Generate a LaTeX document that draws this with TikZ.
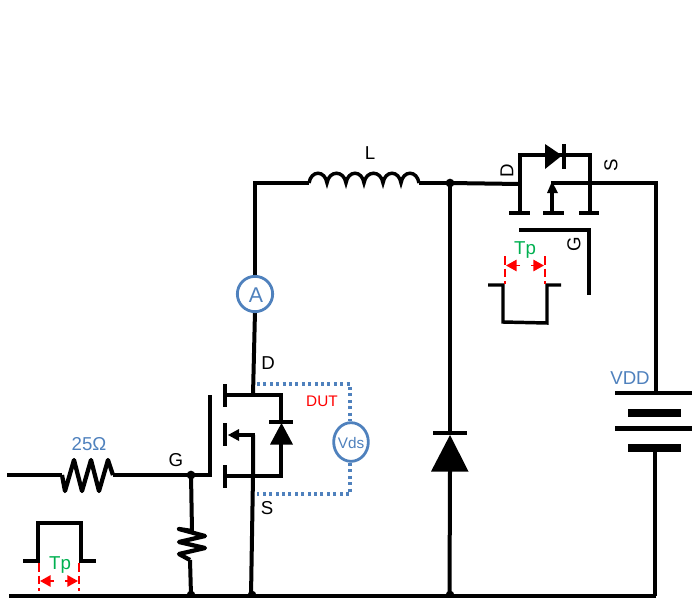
\documentclass[tikz,border=0pt]{standalone}
\usepackage{fontspec}
\setmainfont{Liberation Sans}
\usetikzlibrary{arrows.meta,calc,shapes.geometric}
\definecolor{vblue}{RGB}{79,129,189}
\definecolor{wave}{RGB}{0,176,80}
\tikzset{
  wire/.style={line width=3pt,line cap=butt,line join=miter},
  zigzag/.style={line width=3.2pt,line join=round},
  slim/.style={line width=2.3pt},
  cellplate/.style={line width=3.4pt},
  cellthick/.style={line width=6pt},
  filled/.style={fill=black,draw=none},
  junction/.style={circle,fill=black,inner sep=0pt,minimum size=6.5pt,draw=none},
  probe/.style={draw=vblue,line width=2.3pt,dash pattern=on 2.3pt off 2.5pt},
  meter/.style={draw=vblue,line width=2.1pt,fill=white,inner sep=0pt},
  lab/.style={inner sep=0pt,font=\fontsize{14}{16}\selectfont},
  bluelab/.style={lab,text=vblue},
  greenlab/.style={lab,text=wave,font=\fontsize{14}{16}\selectfont},
  redlab/.style={inner sep=0pt,text=red,font=\fontsize{11.5}{13}\selectfont},
  marker/.style={red,line width=1.2pt,dash pattern=on 6.5pt off 3pt},
  span/.style={red,line width=1.4pt,-{Triangle[length=8pt,width=8.5pt]}}
}
\begin{document}
\begin{tikzpicture}[x=0.75pt,y=-0.75pt]
\useasboundingbox (0,0) rectangle (692,597);
% named points
\coordinate (inL) at (7,475);
\coordinate (r1a) at (62,475);
\coordinate (r1b) at (113,475);
\coordinate (gnd0) at (9,596);
\coordinate (gndE) at (656,596);
\coordinate (lA) at (309,183);
\coordinate (lB) at (419,183);
\coordinate (corner) at (255,183);
\coordinate (dTop) at (253,395);
\coordinate (sMid) at (253,476);
\coordinate (sIn) at (253,435);
\coordinate (sGnd) at (251,596);
\coordinate (gFet) at (210,475);
\coordinate (gFetT) at (210,395);
\coordinate (dR) at (281,395);
\coordinate (sR) at (281,476);
\coordinate (hsD) at (520,184);
\coordinate (hsTL) at (520,155);
\coordinate (hsTR) at (590,155);
\coordinate (hsIn) at (552,182.5);
\coordinate (vddC) at (656,182.5);
\coordinate (batTop) at (656,393);
\coordinate (batBot) at (655,448);
% junction dots
\node[junction] (jG) at (191,475) {};
\node[junction] (jL) at (450,183) {};
\begin{scope}
\clip (0,0) rectangle (692,597);
\node[junction] (jB1) at (191,595) {};
\node[junction] (jB2) at (252,595) {};
\node[junction] (jB3) at (450,595) {};
\end{scope}
% ground rail
\draw[wire] (gnd0) -- (gndE);
% input and 25 ohm
\draw[wire] (inL) -- (r1a);
\draw[zigzag] (r1a) -- (65,491) -- (74,460) -- (82,491) -- (91,460) -- (99,491) -- (108,460) -- (r1b);
\draw[wire] (r1b) -- (jG.center) -- (gFet) -- (gFetT);
% shunt resistor
\draw[wire] (jG.center) -- (192,531);
\draw[zigzag] (192,531) -- (179,529) -- (205,536) -- (179,542) -- (205,548) -- (179,554) -- (190,560);
\draw[wire] (190,560) -- (jB1.center);
% drain path with ammeter
\draw[wire] (lA) -- (corner) -- (255,277);
\draw[wire] (255,311) -- (dTop);
\node[meter,circle,minimum size=26.5pt] (A) at (255,294) {};
\node[bluelab,font=\fontsize{16}{18}\selectfont] (Atxt) at (256,295) {A};
% inductor
\draw[wire,line width=2.6pt] (lA)
  .. controls (311,170) and (325,170) .. (327,183)
  .. controls (329,170) and (344,170) .. (346,183)
  .. controls (348,170) and (362,170) .. (364,183)
  .. controls (366,170) and (381,170) .. (383,183)
  .. controls (385,170) and (399,170) .. (401,183)
  .. controls (403,170) and (417,170) .. (lB);
\draw[wire] (lB) -- (jL.center);
% DUT FET
\draw[wire] (226,395) -- (dR) -- (281,423);
\draw[wire] (226,476) -- (sR) -- (281,444);
\draw[wire] (sIn) -- (sMid) -- (sGnd);
\draw[wire] (225,384) -- (225,407);
\draw[wire] (225,423) -- (225,446);
\draw[wire] (225,465) -- (225,488);
\draw[wire] (254.5,435) -- (237,435);
\path[filled] (228,435) -- (239,429) -- (239,441) -- cycle;
% body diode
\path[filled] (270,444.5) -- (293,444.5) -- (281.5,423) -- cycle;
\draw[slim] (269,422) -- (293,422);
% Vds probe
\draw[probe] (257,384) -- (350,384) -- (350,421);
\draw[probe] (350,463) -- (350,494) -- (257,494);
\node[meter,ellipse,minimum width=26pt,minimum height=29pt] (Vds) at (351,442) {};
\node[bluelab,font=\fontsize{11.5}{13}\selectfont] (Vdstxt) at (351,443) {Vds};
% freewheel diode
\draw[wire] (jL.center) -- (450,434);
\path[filled] (431,471.5) -- (468.5,471.5) -- (450,435) -- cycle;
\draw[slim] (433,433) -- (467,433);
\draw[wire] (450,471) -- (449.5,596);
% high side FET
\draw[wire] (jL.center) -- (hsD);
\draw[wire] (520,213) -- (hsTL) -- (hsTR) -- (590,213);
\draw[wire] (509,213) -- (530,213);
\draw[wire] (543,213) -- (564,213);
\draw[wire] (579,213) -- (599,213);
\path[filled] (545,144) -- (545,169) -- (562,155.5) -- cycle;
\draw[wire] (564,144) -- (564,169);
\draw[wire] (552,213) -- (552,191);
\path[filled] (552,181.5) -- (558,193) -- (547,193) -- cycle;
\draw[wire] (551,182.5) -- (vddC) -- (batTop);
\draw[wire] (519,230) -- (589,230) -- (589,295);
% battery
\draw[cellplate] (615,393) -- (692,393);
\draw[cellthick] (628,412.5) -- (681,412.5);
\draw[cellplate] (615,428.5) -- (692,428.5);
\draw[cellthick] (628,448) -- (681,448);
\draw[wire] (batBot) -- (655,596);
% gate pulses
\draw[wire,line width=2.6pt] (23,561) -- (38,561) -- (38,523) -- (81,523) -- (81,561) -- (96,561);
\draw[wire,line width=2.6pt] (488,285) -- (503,285) -- (503,322) -- (547,323) -- (547,285) -- (561,285);
% pulse width markers
\draw[marker] (39,563) -- (39,591);
\draw[marker] (79,563) -- (79,591);
\draw[span] (54,581) -- (40,581);
\draw[span] (65,581) -- (78,581);
\draw[marker] (505,256) -- (505,284);
\draw[marker] (545,256) -- (545,284);
\draw[span] (520,265.5) -- (506,265.5);
\draw[span] (531,265.5) -- (544,265.5);
% labels
\node[greenlab] (tp1) at (60,565) {Tp};
\node[greenlab] (tp2) at (525,250) {Tp};
\node[bluelab] (r25) at (89,444) {25Ω};
\node[lab] (gL) at (176,460) {G};
\node[lab] (dL) at (268,363) {D};
\node[lab] (sL) at (267,508) {S};
\node[lab] (lL) at (370,153) {L};
\node[redlab] (dut) at (322,401) {DUT};
\node[bluelab] (vdd) at (630,378) {VDD};
\node[lab,rotate=90] (dH) at (507,171) {D};
\node[lab,rotate=90] (sH) at (611,165) {S};
\node[lab,rotate=90] (gH) at (574,244) {G};
\end{tikzpicture}
\end{document}
